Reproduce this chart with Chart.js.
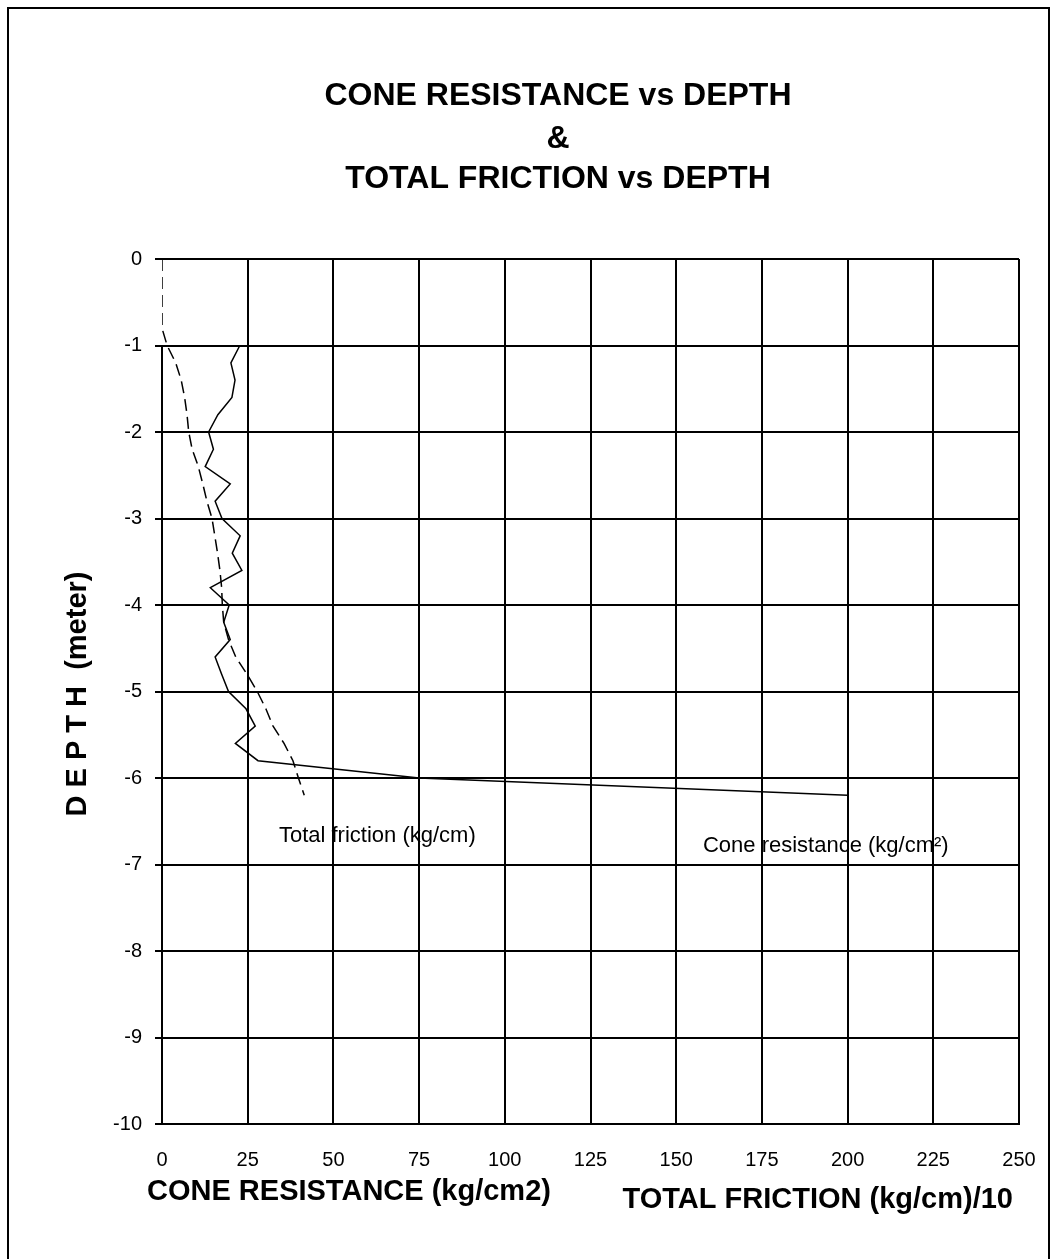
<!DOCTYPE html>
<html>
<head>
<meta charset="utf-8">
<script src="https://cdn.jsdelivr.net/npm/chart.js@4.4.1/dist/chart.umd.min.js"></script>
<style>
  html, body { margin: 0; padding: 0; background: #fff; }
  #grafico { display: block; }
</style>
</head>
<body>
<canvas id="grafico" width="1053" height="1259"></canvas>
<script>
// cone resistance (kg/cm2) against depth (m)
const coneDepth = [-1.0, -1.2, -1.4, -1.6, -1.8, -2.0, -2.2, -2.4, -2.6, -2.8, -3.0, -3.2, -3.4, -3.6,
  -3.8, -4.0, -4.2, -4.4, -4.6, -4.8, -5.0, -5.2, -5.4, -5.6, -5.8, -6.0, -6.2];
const coneResistance = [22.7, 20.1, 21.3, 20.4, 16.3, 13.6, 15.0, 12.6, 19.9, 15.5, 17.5, 22.8, 20.5, 23.3,
  14.1, 19.6, 18.0, 19.9, 15.5, 17.4, 19.4, 24.5, 27.2, 21.4, 28.0, 75.0, 200.0];

// total friction (kg/cm)/10 against depth (m)
const frictionDepth = [0, -0.2, -0.4, -0.6, -0.8, -1.0, -1.2, -1.4, -1.6, -1.8, -2.0, -2.2, -2.4, -2.6,
  -2.8, -3.0, -3.2, -3.4, -3.6, -3.8, -4.0, -4.2, -4.4, -4.6, -4.8, -5.0, -5.2, -5.4, -5.6, -5.8, -6.0, -6.2];
const totalFriction = [0, 0, 0, 0, 0, 1.5, 4.0, 5.6, 6.6, 7.3, 7.8, 8.8, 10.6, 11.9,
  13.1, 14.6, 15.4, 16.2, 16.9, 17.4, 17.6, 18.0, 19.4, 21.5, 24.8, 27.8, 30.3, 32.4, 35.6, 38.2, 39.8, 41.5];

const xTicks = [0, 25, 50, 75, 100, 125, 150, 175, 200, 225, 250];
const yTicks = [0, -1, -2, -3, -4, -5, -6, -7, -8, -9, -10];

const titleLines = ["CONE RESISTANCE vs DEPTH", "&", "TOTAL FRICTION vs DEPTH"];
const seriesLabels = ["Cone resistance (kg/cm\u00b2)", "Total friction (kg/cm)"];

const fontName = "'Liberation Sans', Arial, sans-serif";

function toPoints(xs, ys) {
  return xs.map((x, i) => ({ x: x, y: ys[i] }));
}

const chartDecor = {
  id: "chartDecor",
  beforeDraw(chart) {
    const ctx = chart.ctx;
    ctx.save();
    ctx.fillStyle = "#fff";
    ctx.fillRect(0, 0, chart.width, chart.height);
    ctx.restore();
  },
  beforeDatasetsDraw(chart) {
    // eixo vertical: only drawn below -1 m, the friction dashes show above it
    const { ctx, scales } = chart;
    const x0 = scales.x.getPixelForValue(0);
    ctx.save();
    ctx.strokeStyle = "#000";
    ctx.lineWidth = 2;
    ctx.beginPath();
    ctx.moveTo(x0, scales.y.getPixelForValue(-1));
    ctx.lineTo(x0, scales.y.getPixelForValue(-10) + 1);
    ctx.stroke();
    ctx.restore();
  },
  afterDraw(chart) {
    const { ctx, scales } = chart;
    ctx.save();
    ctx.fillStyle = "#000";

    // titulo
    ctx.textAlign = "center";
    ctx.textBaseline = "alphabetic";
    ctx.font = "bold 32px " + fontName;
    const baselines = [105, 148, 188];
    titleLines.forEach((t, i) => ctx.fillText(t, 558, baselines[i]));

    // axis titles
    ctx.font = "bold 29px " + fontName;
    ctx.textAlign = "left";
    ctx.fillText("CONE RESISTANCE (kg/cm2)", 147, 1200);
    ctx.textAlign = "right";
    ctx.fillText("TOTAL FRICTION (kg/cm)/10", 1013, 1208);

    ctx.save();
    ctx.translate(78, 694);
    ctx.rotate(-Math.PI / 2);
    ctx.textAlign = "center";
    ctx.textBaseline = "middle";
    ctx.fillText("D E P T H  (meter)", 0, 0);
    ctx.restore();

    // series labels
    ctx.font = "22px " + fontName;
    ctx.textAlign = "left";
    ctx.textBaseline = "middle";
    ctx.fillText(seriesLabels[1], scales.x.getPixelForValue(34.1), scales.y.getPixelForValue(-6.67));
    ctx.fillText(seriesLabels[0], scales.x.getPixelForValue(157.8), scales.y.getPixelForValue(-6.79));

    // moldura
    ctx.strokeStyle = "#000";
    ctx.lineWidth = 2;
    ctx.strokeRect(8, 8, 1041, 1300);
    ctx.restore();
  }
};

new Chart(document.getElementById("grafico"), {
  type: "scatter",
  data: {
    datasets: [
      {
        label: seriesLabels[0],
        data: toPoints(coneResistance, coneDepth),
        showLine: true,
        borderColor: "#000",
        borderWidth: 1.5,
        pointRadius: 0,
        tension: 0,
      },
      {
        label: seriesLabels[1],
        data: toPoints(totalFriction, frictionDepth),
        showLine: true,
        borderColor: "#000",
        borderWidth: 1.5,
        borderDash: [12, 6],
        pointRadius: 0,
        tension: 0,
      },
    ],
  },
  options: {
    responsive: false,
    animation: false,
    devicePixelRatio: 1,
    layout: { padding: { top: 259, right: 34, bottom: 0, left: 0 } },
    plugins: {
      legend: { display: false },
      tooltip: { enabled: false },
    },
    scales: {
      x: {
        type: "linear",
        min: 0,
        max: 250,
        afterBuildTicks: (s) => { s.ticks = xTicks.map((v) => ({ value: v })); },
        afterFit: (s) => {
          s.height = 135;
          s.paddingLeft = 0;
          s.paddingRight = 0;
        },
        grid: {
          color: (c) => (c.tick && c.tick.value === 0 ? "rgba(0,0,0,0)" : "#000"),
          lineWidth: 2,
          drawTicks: false,
        },
        border: { color: "#000", width: 2 },
        ticks: {
          color: "#000",
          padding: 24,
          maxRotation: 0,
          font: { family: fontName, size: 20 },
        },
      },
      y: {
        type: "linear",
        min: -10,
        max: 0,
        afterBuildTicks: (s) => { s.ticks = yTicks.map((v) => ({ value: v })); },
        afterFit: (s) => { s.width = 162; },
        grid: { color: "#000", lineWidth: 2, tickLength: 7 },
        border: { display: false },
        ticks: {
          color: "#000",
          padding: 13,
          font: { family: fontName, size: 20 },
        },
      },
    },
  },
  plugins: [chartDecor],
});
</script>
</body>
</html>
